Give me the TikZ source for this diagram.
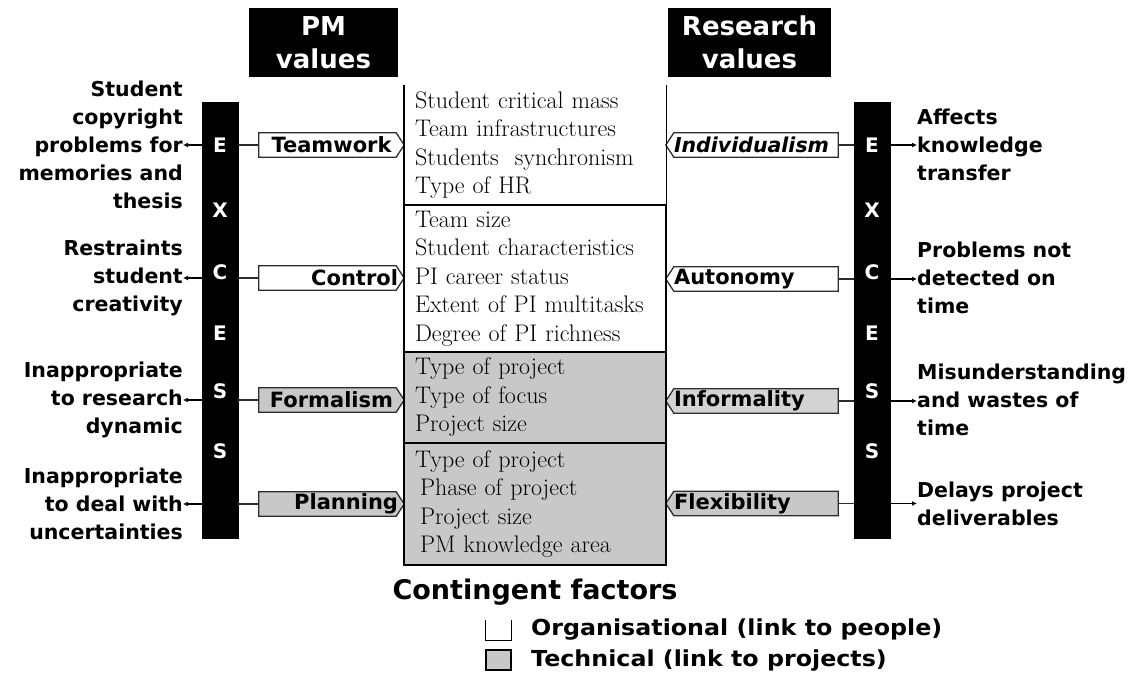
\documentclass[tikz,border=0pt]{standalone}
\usepackage{fontspec}
\newfontfamily\vsans{DejaVu Sans}
\newfontfamily\vsanswide[FakeStretch=1.08]{DejaVu Sans}
\usetikzlibrary{arrows.meta}
\pgfdeclarelayer{bg}
\pgfsetlayers{bg,main}
\definecolor{cfgray}{RGB}{200,200,200}
\definecolor{tagline}{RGB}{45,45,45}
\begin{document}
\begin{tikzpicture}[x=1pt,y=-1pt,
  sidetext/.style={font={\vsans\bfseries\fontsize{20.5}{28}\selectfont}, inner sep=0pt},
  bar/.style={fill=black, draw=black, minimum width=36pt, minimum height=436pt, inner sep=0pt},
  exl/.style={font={\vsans\bfseries\fontsize{20}{20}\selectfont}, text=white, inner sep=0pt},
  header/.style={fill=black, minimum height=69pt, inner sep=0pt, align=center, text=white,
    font={\vsans\bfseries\fontsize{26}{33}\selectfont}},
  tagbox/.style={minimum height=24pt, inner ysep=0pt, inner xsep=6pt,
    font={\vsans\bfseries\fontsize{21}{22}\selectfont}},
  ltagbox/.style={tagbox, text width=133pt},
  rtagbox/.style={tagbox, inner xsep=8pt, text width=156pt, align=left},
  tagedge/.style={draw=tagline, line width=1.3pt},
  conn/.style={draw=tagline, line width=1.3pt},
  outarrow/.style={draw=black, line width=1.2pt, -{Latex[length=5pt,width=5pt]}},
  section/.style={minimum width=262pt, inner xsep=11pt, inner ysep=0pt, text width=240pt, align=left,
    font={\fontsize{24}{28.5}\selectfont}},
  boxline/.style={draw=black, line width=1.4pt},
  legtext/.style={font={\vsanswide\bfseries\fontsize{22}{24}\selectfont}, inner sep=0pt, anchor=west},
  legbox/.style={minimum width=25pt, minimum height=20pt, inner sep=0pt}
]
\useasboundingbox (0,0) rectangle (1137,677);

% headers
\node[header, minimum width=149pt] (pmv) at (323.5,42.5) {PM\\values};
\node[header, minimum width=163pt] (rsv) at (749.5,42.5) {Research\\values};

% EXCESS bars
\node[bar] (lbar) at (220,320) {};
\node[bar] (rbar) at (872,320) {};
\foreach \l/\yy [count=\i] in {E/145,X/210,C/272,E/333,S/391,S/451}{
  \node[exl] (le\i) at (220,\yy) {\l};
  \node[exl] (re\i) at (872,\yy) {\l};
}

% central contingent factor sections
\node[section, minimum height=120pt] (s1) at (535,145) {Student critical mass\\Team infrastructures\\Students\ \ synchronism\\Type of HR};
\node[section, minimum height=147pt, draw=black, line width=1.4pt, fill=white] (s2) at (535,278.5) {Team size\\Student characteristics\\PI career status\\Extent of PI multitasks\\Degree of PI richness};
\node[section, minimum height=91pt, draw=black, line width=1.4pt, fill=cfgray] (s3) at (535,397.5) {Type of project\\Type of focus\\Project size};
\node[section, minimum height=122pt, draw=black, line width=1.4pt, fill=cfgray] (s4) at (535,504) {Type of project\\\hspace*{5pt}Phase of project\\\hspace*{5pt}Project size\\\hspace*{5pt}PM knowledge area};
\draw[boxline] (s1.north west) -- (s1.south west) -- (s1.south east) -- (s1.north east);

% left tags (PM values)
\node[ltagbox, align=center, minimum width=145pt] (tw) at (331.5,145) {Teamwork};
\node[ltagbox, align=right, minimum width=145pt] (ct) at (331.5,278) {Control};
\node[ltagbox, align=center, minimum width=145pt] (fm) at (331.5,400) {Formalism};
\node[ltagbox, align=right, minimum width=145pt] (pl) at (331.5,504) {Planning};

% right tags (research values)
\node[rtagbox, minimum width=172pt, font={\vsans\bfseries\itshape\fontsize{20.5}{22}\selectfont}] (iv) at (752,145) {Individualism};
\node[rtagbox, minimum width=172pt] (au) at (752,279) {Autonomy};
\node[rtagbox, minimum width=172pt] (inf) at (752,401) {Informality};
\node[rtagbox, minimum width=172pt] (fl) at (752,503.5) {Flexibility};

\begin{pgfonlayer}{bg}
  \foreach \t/\c in {tw/white,ct/white,fm/cfgray,pl/cfgray}{
    \draw[tagedge, fill=\c] (\t.north west) -- ([xshift=-8pt]\t.north east) -- (\t.east)
      -- ([xshift=-8pt]\t.south east) -- (\t.south west) -- cycle;
  }
  \foreach \t/\c in {iv/white,au/white,inf/cfgray!80!white,fl/cfgray}{
    \draw[tagedge, fill=\c] (\t.west) -- ([xshift=8pt]\t.north west) -- (\t.north east)
      -- (\t.south east) -- ([xshift=8pt]\t.south west) -- cycle;
  }
\end{pgfonlayer}

% excess texts
\node[sidetext, align=right, anchor=east] (lo1) at (183,145) {Student\\copyright\\problems for\\memories and\\thesis};
\node[sidetext, align=right, anchor=east] (lo2) at (183,278) {Restraints\\student\\creativity};
\node[sidetext, align=right, anchor=east] (lo3) at (183,400) {Inappropriate\\to research\\dynamic};
\node[sidetext, align=right, anchor=east] (lo4) at (183,504) {Inappropriate\\to deal with\\uncertainties};
\node[sidetext, align=left, anchor=west] (ro1) at (917,145) {Affects\\knowledge\\transfer};
\node[sidetext, align=left, anchor=west] (ro2) at (917,278) {Problems not\\detected on\\time};
\node[sidetext, align=left, anchor=west] (ro3) at (917,400) {Misunderstanding\\and wastes of\\time};
\node[sidetext, align=left, anchor=west] (ro4) at (917,504) {Delays project\\deliverables};

% connectors
\foreach \t/\o in {tw/lo1,ct/lo2,fm/lo3,pl/lo4}{
  \draw[conn] (\t.west) -- (\t.west -| lbar.east);
  \draw[outarrow] (\t.west -| lbar.west) -- (\t.west -| \o.east);
}
\foreach \t/\o in {iv/ro1,au/ro2,inf/ro3,fl/ro4}{
  \draw[conn] (\t.east) -- (\t.east -| rbar.west);
  \draw[outarrow] (\t.east -| rbar.east) -- (\t.east -| \o.west);
}

% legend
\node[font={\vsans\bfseries\fontsize{27}{30}\selectfont}, inner sep=0pt] (lgt) at (535,592) {Contingent factors};
\node[legbox] (lb1) at (498.5,630) {};
\draw[draw=black, line width=1.3pt] (lb1.north west) -- (lb1.south west) -- (lb1.south east) -- (lb1.north east);
\node[legbox, fill=cfgray, draw=black, line width=1.3pt] (lb2) at (498.5,660) {};
\node[legtext] (lt1) at (531,630) {Organisational (link to people)};
\node[legtext] (lt2) at (531,661) {Technical (link to projects)};
\end{tikzpicture}
\end{document}
